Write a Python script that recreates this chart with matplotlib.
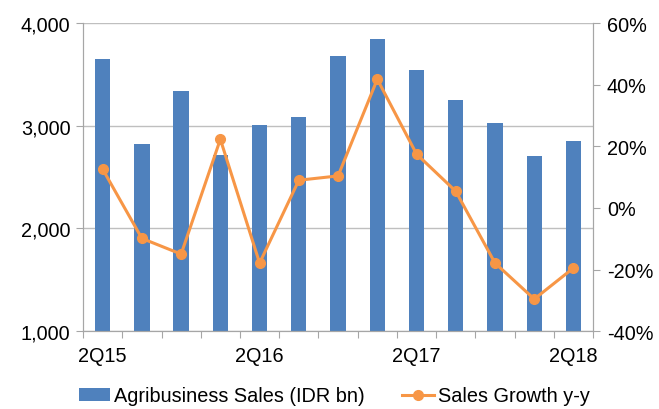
import numpy as np
import matplotlib.pyplot as plt
from matplotlib.ticker import FuncFormatter

plt.rcParams['font.family'] = ['Liberation Sans', 'DejaVu Sans']

# quarters 2Q15 .. 2Q18
quarters = ['2Q15', '3Q15', '4Q15', '1Q16', '2Q16', '3Q16', '4Q16',
            '1Q17', '2Q17', '3Q17', '4Q17', '1Q18', '2Q18']
sales = [3655, 2827, 3344, 2714, 3009, 3084, 3681, 3850, 3541, 3249, 3032, 2704, 2850]
growth = [12.6, -9.9, -15.0, 22.3, -17.9, 9.0, 10.4, 41.8, 17.5, 5.4, -17.9, -29.6, -19.5]
shown_labels = ['2Q15', '2Q16', '2Q17', '2Q18']

bar_color = '#4F81BD'
line_color = '#F79646'
axis_gray = '#A6A6A6'
fs = 14.3

fig = plt.figure(figsize=(6.59, 4.10), dpi=100)
ax = fig.add_axes([0.126, 0.19, 0.774, 0.751])
ax2 = ax.twinx()

x = np.arange(len(quarters))
ax.bar(x, sales, width=0.39, bottom=0, color=bar_color, zorder=2,
       label='Agribusiness Sales (IDR bn)')
ax2.plot(x, growth, color=line_color, lw=2.2, marker='o', ms=7,
         label='Sales Growth y-y', zorder=3)

ax.set_xlim(-0.5, len(quarters) - 0.5)
ax.set_ylim(1000, 4000)
ax.set_yticks([1000, 2000, 3000, 4000])
ax.yaxis.set_major_formatter(FuncFormatter(lambda v, p: f'{v:,.0f}'))
ax.grid(axis='y', color='#BFBFBF', lw=1, zorder=0)
ax.set_axisbelow(True)

ax2.set_ylim(-40, 60)
ax2.set_yticks([-40, -20, 0, 20, 40, 60])
ax2.yaxis.set_major_formatter(FuncFormatter(lambda v, p: f'{v:.0f}%'))

# category ticks at boundaries, labels every 4th quarter
ax.set_xticks(np.arange(-0.5, len(quarters), 1.0), minor=False)
ax.set_xticklabels([])
ax.set_xticks([0, 4, 8, 12], minor=True)
ax.set_xticklabels(shown_labels, minor=True)
ax.tick_params(axis='x', which='major', length=5, color=axis_gray, direction='out')
ax.tick_params(axis='x', which='minor', length=0, pad=11, labelsize=fs)
ax.tick_params(axis='y', length=5, color=axis_gray, labelsize=fs, pad=4)
ax2.tick_params(axis='y', length=5, color=axis_gray, labelsize=fs, pad=5)

for a in (ax, ax2):
    a.spines['top'].set_visible(False)
    for s in ('left', 'right', 'bottom'):
        a.spines[s].set_color(axis_gray)

h1, l1 = ax.get_legend_handles_labels()
h2, l2 = ax2.get_legend_handles_labels()
fig.legend(h1 + h2, l1 + l2, loc='center', bbox_to_anchor=(0.507, 0.032),
           ncol=2, frameon=False, fontsize=fs, handlelength=1.6,
           handleheight=0.6, handletextpad=0.2, columnspacing=1.85,
           borderpad=0, borderaxespad=0)

fig.savefig('out.png', dpi=100)
